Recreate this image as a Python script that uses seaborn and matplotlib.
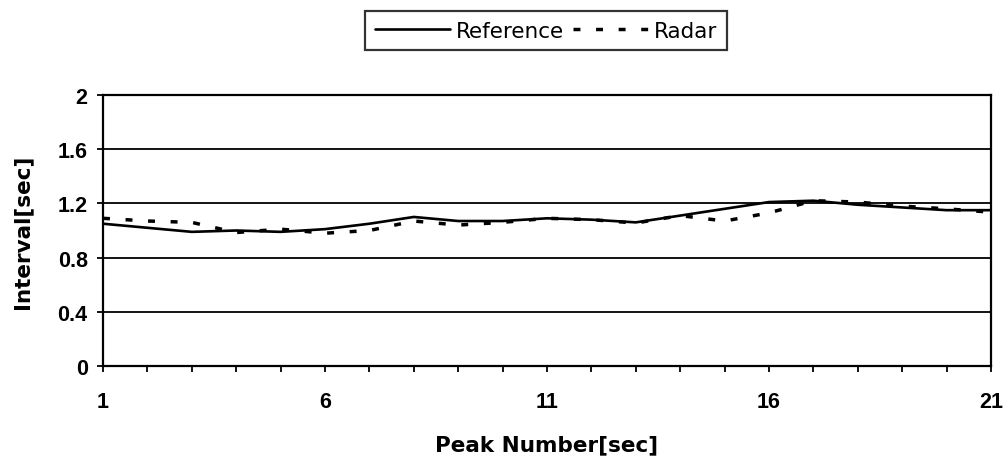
import matplotlib
matplotlib.use("Agg")
import matplotlib.pyplot as plt
from matplotlib.lines import Line2D
import seaborn as sns
import pandas as pd

peak_number = list(range(1, 22))
reference = [1.05, 1.02, 0.99, 1.00, 0.99, 1.01, 1.05, 1.10, 1.07, 1.07, 1.09,
             1.08, 1.06, 1.11, 1.16, 1.21, 1.22, 1.19, 1.17, 1.15, 1.15]
radar = [1.09, 1.07, 1.06, 0.985, 1.01, 0.98, 1.00, 1.07, 1.04, 1.06, 1.09,
         1.08, 1.055, 1.11, 1.07, 1.13, 1.22, 1.21, 1.18, 1.16, 1.135]
x_ticks = [1, 6, 11, 16, 21]
y_ticks = [0, 0.4, 0.8, 1.2, 1.6, 2]
y_tick_labels = ["0", "0.4", "0.8", "1.2", "1.6", "2"]

sns.set_style("white")
plt.rcParams['font.family'] = ['Liberation Sans', 'DejaVu Sans']
plt.rcParams['text.color'] = 'black'
plt.rcParams['axes.labelcolor'] = 'black'
plt.rcParams['xtick.color'] = 'black'
plt.rcParams['ytick.color'] = 'black'

df = pd.DataFrame({"Peak": peak_number * 2,
                   "Interval": reference + radar,
                   "Series": ["Reference"] * 21 + ["Radar"] * 21})

DASH = (2.0, 4.5)

fig = plt.figure(figsize=(10.08, 4.6), dpi=100)
ax = fig.add_axes([103 / 1008, 1 - 367 / 460, (991 - 103) / 1008, (367 - 96) / 460])

sns.lineplot(data=df, x="Peak", y="Interval", hue="Series", style="Series",
             palette={"Reference": "black", "Radar": "black"},
             dashes={"Reference": "", "Radar": DASH},
             size="Series", sizes={"Reference": 1.9, "Radar": 2.5},
             ax=ax, legend=False)

ax.set_xlim(1, 21)
ax.set_ylim(0, 2)
ax.set_yticks(y_ticks)
ax.set_yticklabels(y_tick_labels)
ax.set_xticks(x_ticks)
ax.set_xticks(peak_number, minor=True)
ax.yaxis.grid(True, color="black", linewidth=1.3)
ax.set_axisbelow(True)
for s in ax.spines.values():
    s.set_color("black")
    s.set_linewidth(1.6)
ax.tick_params(axis="both", which="both", bottom=True, left=True, top=False, right=False)
ax.tick_params(axis="y", which="major", length=4, width=1.3, colors="black",
               labelsize=15.5, pad=7, direction="out")
ax.tick_params(axis="x", which="both", length=4, width=1.3, colors="black",
               direction="out")
ax.tick_params(axis="x", which="major", labelsize=15.5, pad=14)
for lbl in ax.get_xticklabels() + ax.get_yticklabels():
    lbl.set_fontweight("bold")
    lbl.set_color("black")

ax.set_xlabel("Peak Number[sec]", fontsize=15.5, fontweight="bold",
              family="DejaVu Sans", labelpad=16, color="black")
ax.set_ylabel("Interval[sec]", fontsize=15.5, fontweight="bold",
              family="DejaVu Sans", labelpad=18, color="black")

handles = [Line2D([], [], color="black", linewidth=1.9),
           Line2D([], [], color="black", linewidth=2.5, linestyle=(0, DASH))]
leg = fig.legend(handles, ["Reference", "Radar"], loc="center",
                 bbox_to_anchor=(546 / 1008, 1 - 31.5 / 460), ncol=2,
                 frameon=True, fancybox=False,
                 prop={"family": "DejaVu Sans", "size": 15.5},
                 handlelength=3.5, columnspacing=0.45, handletextpad=0.25,
                 borderpad=0.45)
leg.get_frame().set_edgecolor("black")
leg.get_frame().set_linewidth(1.6)
for t in leg.get_texts():
    t.set_color("black")

fig.savefig("out.png", dpi=100)
